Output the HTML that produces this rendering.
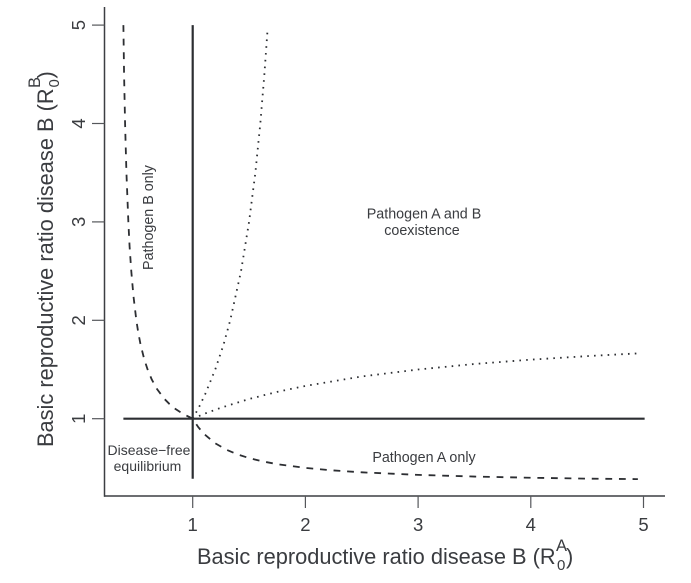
<!DOCTYPE html>
<html lang="en">
<head>
<meta charset="utf-8">
<title>Pathogen coexistence regions</title>
<style>
html,body{margin:0;padding:0;background:#fff;width:691px;height:583px;overflow:hidden}
svg{display:block;font-family:"Liberation Sans",Arial,sans-serif}
text{fill:#3a3c40}
</style>
</head>
<body>
<svg id="chart" width="691" height="583" viewBox="0 0 691 583" xmlns="http://www.w3.org/2000/svg">
  <g id="axes"></g>
  <g id="marks"></g>

  <g font-size="21.8">
    <text x="197" y="564">Basic reproductive ratio disease B (R</text>
    <text x="556" y="551" font-size="16.5">A</text>
    <text x="557" y="570" font-size="15">0</text>
    <text x="566" y="564">)</text>
  </g>
  <g font-size="21.8">
    <text transform="translate(53,447) rotate(-90)">Basic reproductive ratio disease B (R</text>
    <text transform="translate(40,88) rotate(-90)" font-size="16.5">B</text>
    <text transform="translate(59,87.5) rotate(-90)" font-size="15">0</text>
    <text transform="translate(53,78.5) rotate(-90)">)</text>
  </g>

  <g font-size="14.3" text-anchor="middle">
    <text x="424" y="218.5">Pathogen A and B</text>
    <text x="422" y="235">coexistence</text>
    <text x="424" y="462">Pathogen A only</text>
    <text transform="translate(153,217.5) rotate(-90)">Pathogen B only</text>
    <text x="149" y="455" font-size="14">Disease−free</text>
    <text x="147.5" y="471" font-size="14">equilibrium</text>
  </g>
</svg>
<script>
var xTicks = [1, 2, 3, 4, 5];
var yTicks = [1, 2, 3, 4, 5];
var tickLabels = ['1', '2', '3', '4', '5'];

var thresholdVerticalX = [1, 1];
var thresholdVerticalY = [0.39, 5];
var thresholdHorizontalX = [0.385, 5.01];
var thresholdHorizontalY = [1, 1];

var boundaryX = [0.385, 0.391, 0.4, 0.412, 0.429, 0.44, 0.455, 0.474, 0.5, 0.517, 0.538, 0.571, 0.6, 0.636, 0.684, 0.75, 0.793, 0.846, 0.913, 1, 1.05, 1.1, 1.2, 1.3, 1.4, 1.5, 1.625, 1.75, 2, 2.25, 2.5, 3, 3.5, 4, 4.5, 4.95];
var boundaryY = [5, 4.5, 4, 3.5, 3, 2.75, 2.5, 2.25, 2, 1.875, 1.75, 1.6, 1.5, 1.4, 1.3, 1.2, 1.15, 1.1, 1.05, 1, 0.913, 0.846, 0.75, 0.684, 0.636, 0.6, 0.565, 0.538, 0.5, 0.474, 0.455, 0.429, 0.412, 0.4, 0.391, 0.386];

var upperDottedX = [1, 1.053, 1.111, 1.2, 1.273, 1.333, 1.429, 1.5, 1.556, 1.6, 1.636, 1.664];
var upperDottedY = [1, 1.11, 1.25, 1.5, 1.75, 2, 2.5, 3, 3.5, 4, 4.5, 4.95];

var lowerDottedX = [1, 1.11, 1.25, 1.5, 1.75, 2, 2.5, 3, 3.5, 4, 4.5, 4.97];
var lowerDottedY = [1, 1.053, 1.111, 1.2, 1.273, 1.333, 1.429, 1.5, 1.556, 1.6, 1.636, 1.665];

var NS = 'http://www.w3.org/2000/svg';
var INK = '#2c2e32';
var axesGroup = document.getElementById('axes');
var marksGroup = document.getElementById('marks');

function sx(v) { return 192.7 + (v - 1) * 112.7; }
function sy(v) { return 418.7 - (v - 1) * 98.4; }

function makeLine(parent, x1, y1, x2, y2, width, color) {
  var l = document.createElementNS(NS, 'line');
  l.setAttribute('x1', x1);
  l.setAttribute('y1', y1);
  l.setAttribute('x2', x2);
  l.setAttribute('y2', y2);
  l.setAttribute('stroke', color);
  l.setAttribute('stroke-width', width);
  parent.appendChild(l);
  return l;
}

function makeSeries(xs, ys, width, dash) {
  var d = xs.map(function (v, i) {
    return (i ? 'L' : 'M') + sx(v).toFixed(2) + ' ' + sy(ys[i]).toFixed(2);
  }).join(' ');
  var p = document.createElementNS(NS, 'path');
  p.setAttribute('d', d);
  p.setAttribute('fill', 'none');
  p.setAttribute('stroke', INK);
  p.setAttribute('stroke-width', width);
  if (dash) p.setAttribute('stroke-dasharray', dash);
  marksGroup.appendChild(p);
  return p;
}

var xAxisLine = makeLine(axesGroup, 104, 496, 665, 496, 1.5, '#3c3e42');


var yAxisLine = makeLine(axesGroup, 104.5, 7, 104.5, 496.7, 1.5, '#3c3e42');



xTicks.forEach(function (v, i) {
  var t = makeLine(axesGroup, sx(v), 496, sx(v), 508, 1.2, '#55575b');
  
  
  var label = document.createElementNS(NS, 'text');
  
  
  label.setAttribute('x', sx(v));
  label.setAttribute('y', 531);
  label.setAttribute('font-size', '18.5');
  label.setAttribute('text-anchor', 'middle');
  label.textContent = tickLabels[i];
  axesGroup.appendChild(label);
});

yTicks.forEach(function (v, i) {
  var t = makeLine(axesGroup, 92, sy(v), 104.5, sy(v), 1.2, '#55575b');
  
  
  var label = document.createElementNS(NS, 'text');
  
  
  label.setAttribute('transform', 'translate(85,' + sy(v) + ') rotate(-90)');
  label.setAttribute('font-size', '18.5');
  label.setAttribute('text-anchor', 'middle');
  label.textContent = tickLabels[i];
  axesGroup.appendChild(label);
});

var vLine = makeSeries(thresholdVerticalX, thresholdVerticalY, 2.2);


var hLine = makeSeries(thresholdHorizontalX, thresholdHorizontalY, 2.2);


var boundary = makeSeries(boundaryX, boundaryY, 1.8, '6.8 6.8');


var upperDotted = makeSeries(upperDottedX, upperDottedY, 1.8, '1.6 5.2');


var lowerDotted = makeSeries(lowerDottedX, lowerDottedY, 1.8, '1.6 5.2');


</script>
</body>
</html>
